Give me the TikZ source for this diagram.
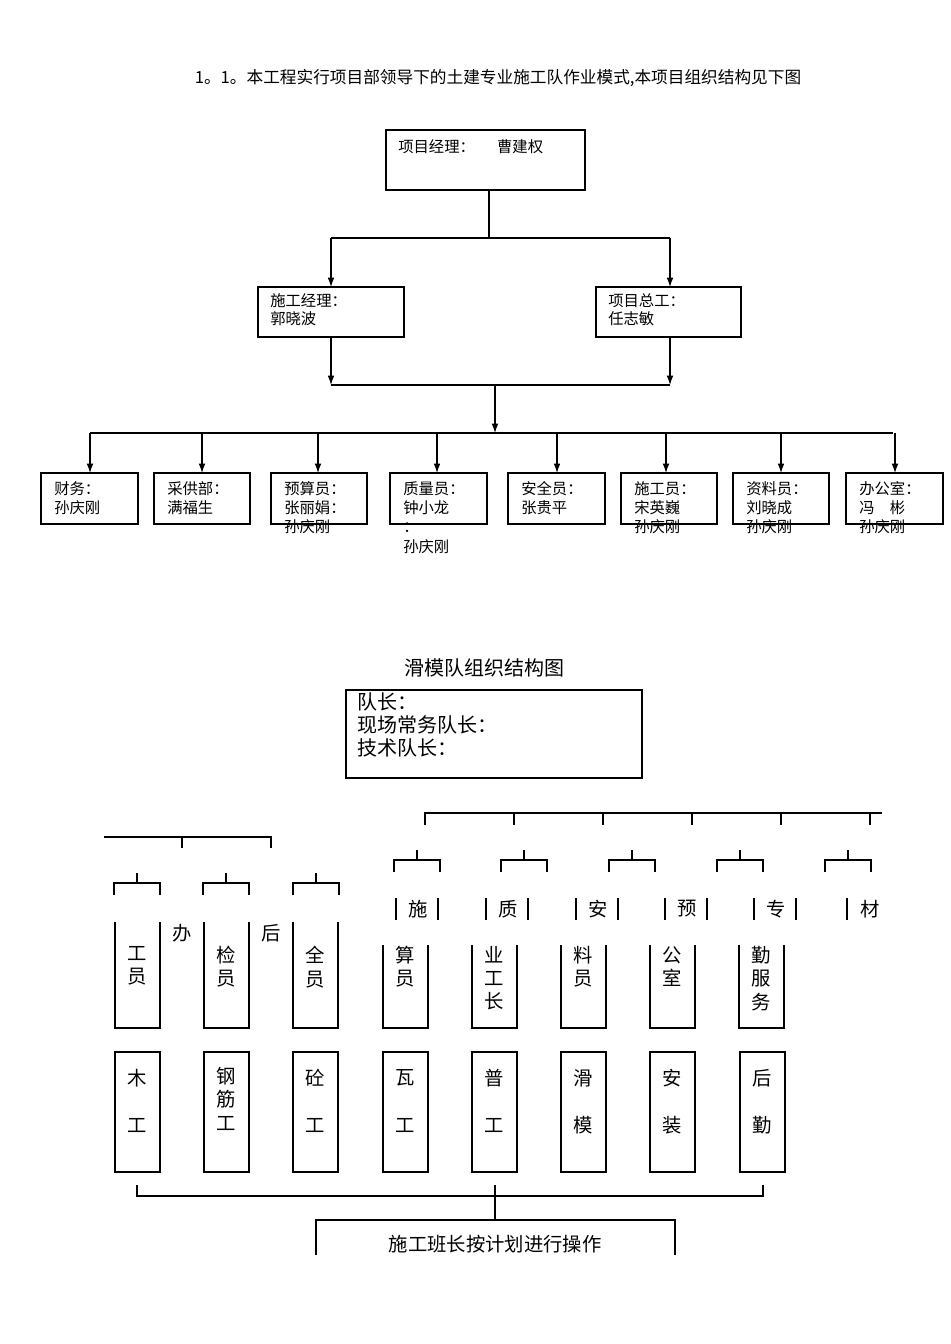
\documentclass[tikz,border=0pt]{standalone}
\usepackage{fontspec}
\setmainfont{Liberation Serif}
\newfontfamily\cjk{Noto Sans CJK SC}
\usetikzlibrary{arrows.meta}
\begin{document}
\begin{tikzpicture}[x=0.75pt,y=-0.75pt,
  bx/.style={draw,line width=0.8pt},
  ar/.style={-{Latex[length=7pt,width=5pt]},line width=0.8pt},
  ln/.style={line width=0.9pt},
  t1/.style={font=\cjk\fontsize{11.5}{14}\selectfont,inner sep=0pt,anchor=north west,align=left},
  t2/.style={font=\cjk\fontsize{14.5}{18}\selectfont,inner sep=0pt},
  vt/.style={font=\cjk\fontsize{14.5}{17.5}\selectfont,inner sep=0pt,align=center,anchor=north}]
\useasboundingbox (0,0) rectangle (950,1344);
\node[font=\cjk\fontsize{12.5}{15}\selectfont] (title) at (498,78) {1。1。本工程实行项目部领导下的土建专业施工队作业模式,本项目组织结构见下图};
% level 1
\draw[bx] (386,130) rectangle (585,190);
\coordinate (pm) at (489,190);
\node[t1] (pmt) at (398,139) {项目经理：\quad\ \ 曹建权};
\coordinate (j1) at (489,238);
\draw[ln] (pm) -- (j1);
\draw[ln] (331,238) -- (670,238);
\draw[bx] (258,287) rectangle (404,337);
\draw[bx] (596,287) rectangle (741,337);
\coordinate (b2t) at (331,287); \coordinate (b3t) at (670,287);
\draw[ar] (331,238) -- (b2t);
\draw[ar] (670,238) -- (b3t);
\node[t1] (b2x) at (270,293) {施工经理：\\郭晓波};
\node[t1] (b3x) at (608,293) {项目总工：\\任志敏};
\draw[ar] (331,337) -- (331,385);
\draw[ar] (670,337) -- (670,385);
\draw[ln] (331,385) -- (670,385);
\draw[ar] (495,385) -- (495,433);
\draw[ln] (90,433) -- (893,433);
\foreach \a/\l/\r/\txt in {90/41/138/{财务：\\孙庆刚},202/154/250/{采供部：\\满福生},318/271/367/{预算员：\\张丽娟：\\孙庆刚},437/390/487/{质量员：\\钟小龙\\：\\孙庆刚},557/508/605/{安全员：\\张贵平},666/621/717/{施工员：\\宋英巍\\孙庆刚},781/733/829/{资料员：\\刘晓成\\孙庆刚},895/846/943/{办公室：\\冯\quad 彬\\孙庆刚}}{
  \draw[bx] (\l,473) rectangle (\r,524);
  \draw[ar] (\a,433) -- (\a,473);
  \node[t1,font=\cjk\fontsize{11.5}{14.5}\selectfont] at (\l+13,481) {\txt};
}
% lower chart
\node[font=\cjk\fontsize{15}{18}\selectfont] (t2) at (484,668) {滑模队组织结构图};
\draw[bx] (346,690) rectangle (642,778);
\node[t1,font=\cjk\fontsize{15}{17.5}\selectfont] (lead) at (357,692) {队长：\\现场常务队长：\\技术队长：};
% top brackets
\draw[ln] (104,837) -- (271,837) -- (271,848);
\draw[ln] (182,837) -- (182,848);
\draw[ln] (425,825) -- (425,813) -- (882,813);
\foreach \x in {514,603,692,781,870} \draw[ln] (\x,813) -- (\x,825);
\foreach \c in {417,524,632,740,848} \draw[ln] (\c,850) -- (\c,860) (\c-23,872) -- (\c-23,860) -- (\c+23,860) -- (\c+23,872);
\foreach \c in {137,226,316} \draw[ln] (\c,873) -- (\c,883) (\c-23,895) -- (\c-23,883) -- (\c+23,883) -- (\c+23,895);
% row of single chars
\foreach \c/\ch in {417/施,507/质,597/安,686/预,775/专}{
  \draw[ln] (\c-21,898) -- (\c-21,920) (\c+21,898) -- (\c+21,920);
  \node[t2] at (\c+1,909) {\ch};}
\draw[ln] (847,898) -- (847,920); \node[t2] at (870,909) {材};
\node[t2] at (182,933) {办};
\node[t2] at (271,933) {后};
% left middle boxes
\foreach \l/\txt in {115/{工\\员},204/{检\\员},293/{全\\员}}{
  \draw[ln] (\l,922) -- (\l,1028) -- (\l+45,1028) -- (\l+45,922);
  \node[vt] at (\l+22.5,946) {\txt};}
\foreach \l/\txt in {383/{算\\员},472/{业\\工\\长},561/{料\\员},650/{公\\室},739/{勤\\服\\务}}{
  \draw[ln] (\l,945) -- (\l,1028) -- (\l+45,1028) -- (\l+45,945);
  \node[vt] at (\l+22.5,946) {\txt};}
% bottom boxes
\foreach \l/\a/\b in {115/木/工,293/砼/工,383/瓦/工,472/普/工,561/滑/模,650/安/装,740/后/勤}{
  \draw[bx] (\l,1052) rectangle (\l+45,1172);
  \node[t2] at (\l+22.5,1078) {\a};
  \node[t2] at (\l+22.5,1125) {\b};}
\draw[bx] (204,1052) rectangle (249,1172);
\node[vt] at (226.5,1067) {钢\\筋\\工};
% bottom bracket
\coordinate (bc) at (495,1196);
\draw[ln] (137,1185) -- (137,1196) -- (763,1196) -- (763,1185);
\draw[ln] (495,1185) -- (495,1220);
\draw[ln] (316,1255) -- (316,1220) -- (675,1220) -- (675,1255);
\node[t2] (fin) at (495,1244) {施工班长按计划进行操作};
\end{tikzpicture}
\end{document}
